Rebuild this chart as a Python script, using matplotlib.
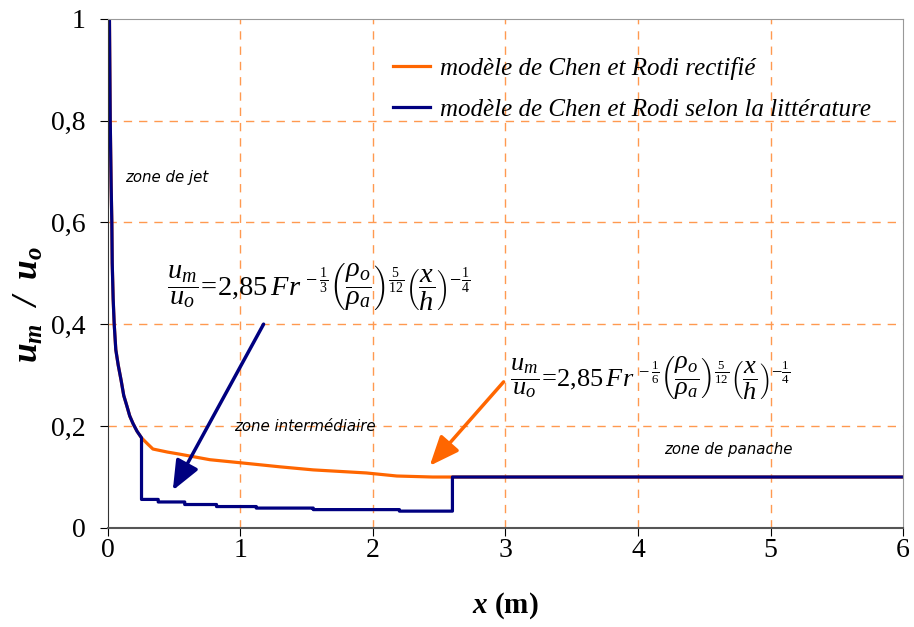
import matplotlib
matplotlib.use("Agg")
import matplotlib.pyplot as plt

plt.rcParams['font.family'] = 'Liberation Serif'
plt.rcParams['mathtext.fontset'] = 'custom'
plt.rcParams['mathtext.rm'] = 'Liberation Serif'
plt.rcParams['mathtext.it'] = 'Liberation Serif:italic'
plt.rcParams['mathtext.bf'] = 'Liberation Serif:italic:bold'

# zone de jet + debut zone intermediaire (commun aux deux modeles)
jet_x = [0.012, 0.018, 0.025, 0.03, 0.033, 0.04, 0.048, 0.06, 0.078, 0.10, 0.12, 0.143, 0.165, 0.19, 0.22, 0.254]
jet_y = [1.0, 0.80, 0.67, 0.60, 0.52, 0.45, 0.40, 0.35, 0.32, 0.29, 0.26, 0.24, 0.22, 0.205, 0.19, 0.177]

# modele rectifie
rect_x = [0.254, 0.30, 0.34, 0.45, 0.54, 0.77, 1.0, 1.3, 1.55, 1.95, 2.18, 2.45, 6.0]
rect_y = [0.177, 0.165, 0.155, 0.149, 0.145, 0.134, 0.128, 0.120, 0.114, 0.108, 0.102, 0.100, 0.100]

# modele selon la litterature (paliers)
lit_x = [0.254, 0.254, 0.38, 0.38, 0.58, 0.58, 0.82, 0.82, 1.12, 1.12, 1.55, 1.55, 2.2, 2.2, 2.6, 2.6, 6.0]
lit_y = [0.177, 0.056, 0.056, 0.051, 0.051, 0.046, 0.046, 0.042, 0.042, 0.039, 0.039, 0.036, 0.036, 0.033, 0.033, 0.100, 0.100]

xticks = [0, 1, 2, 3, 4, 5, 6]
yticks = [0, 0.2, 0.4, 0.6, 0.8, 1]
ylabels = ['0', '0,2', '0,4', '0,6', '0,8', '1']

orange = '#FF6600'
navy = '#000080'

fig = plt.figure(figsize=(9.14, 6.27), dpi=100)
ax = fig.add_axes([0.118, 0.158, 0.870, 0.812])

ax.plot(jet_x + rect_x, jet_y + rect_y, color=orange, lw=2.3, label='modèle de Chen et Rodi rectifié')
ax.plot(jet_x + lit_x, jet_y + lit_y, color=navy, lw=2.3, label='modèle de Chen et Rodi selon la littérature')

ax.set_xlim(0, 6)
ax.set_ylim(0, 1)
ax.set_xticks(xticks)
ax.set_xticklabels([str(t) for t in xticks])
ax.set_yticks(yticks)
ax.set_yticklabels(ylabels)
ax.tick_params(labelsize=20, direction='out', length=6, width=0.8)
ax.tick_params(axis='x', pad=1)
ax.tick_params(axis='y', pad=10)

for v in [0.2, 0.4, 0.6, 0.8]:
    ax.axhline(v, color='#FF9950', lw=1.0, ls=(0, (6, 5)), zorder=0)
for v in [1, 2, 3, 4, 5]:
    ax.axvline(v, color='#FF9950', lw=1.0, ls=(0, (6, 5)), zorder=0)

ax.spines['top'].set_color('#999999')
ax.spines['right'].set_color('#999999')
ax.spines['left'].set_color('#333333')
ax.spines['bottom'].set_color('#555555')
ax.spines['bottom'].set_linewidth(1.5)

ax.set_ylabel(r'$\mathbf{u_m\ \ /\ \ u_o}$', fontsize=25.5)
ax.yaxis.set_label_coords(-0.078, 0.44)
ax.set_xlabel(r'$\mathbf{x}$ (m)', fontsize=21, fontweight='bold', labelpad=20)

leg = ax.legend(loc='upper right', bbox_to_anchor=(0.96, 0.925), frameon=False,
                prop={'family': 'Liberation Serif', 'style': 'italic', 'size': 18},
                handlelength=1.5, handletextpad=0.4, labelspacing=0.75,
                borderaxespad=0, borderpad=0)

zone_font = dict(family='DejaVu Sans', style='italic', fontsize=10.8)
ax.text(0.13, 0.68, 'zone de jet', **zone_font)
ax.text(0.95, 0.19, 'zone intermédiaire', **zone_font)
ax.text(4.2, 0.145, 'zone de panache', **zone_font)

eq1 = r'$\dfrac{u_m}{u_o}\!=\!2{,}85\,Fr^{\,-\frac{1}{3}}\left(\dfrac{\rho_o}{\rho_a}\right)^{\frac{5}{12}}\left(\dfrac{x}{h}\right)^{-\frac{1}{4}}$'
eq2 = r'$\dfrac{u_m}{u_o}\!=\!2{,}85\,Fr^{\,-\frac{1}{6}}\left(\dfrac{\rho_o}{\rho_a}\right)^{\frac{5}{12}}\left(\dfrac{x}{h}\right)^{-\frac{1}{4}}$'
ax.text(1.59, 0.475, eq1, fontsize=20.5, ha='center', va='center')
ax.text(4.09, 0.295, eq2, fontsize=19, ha='center', va='center')

ax.annotate('', xy=(0.48, 0.069), xytext=(1.185, 0.405),
            arrowprops=dict(arrowstyle='-|>,head_length=1.8,head_width=0.75', color=navy, lw=2.5))
ax.annotate('', xy=(2.415, 0.118), xytext=(3.0, 0.291),
            arrowprops=dict(arrowstyle='-|>,head_length=1.8,head_width=0.75', color=orange, lw=2.5))

fig.savefig('out.png', dpi=100)
